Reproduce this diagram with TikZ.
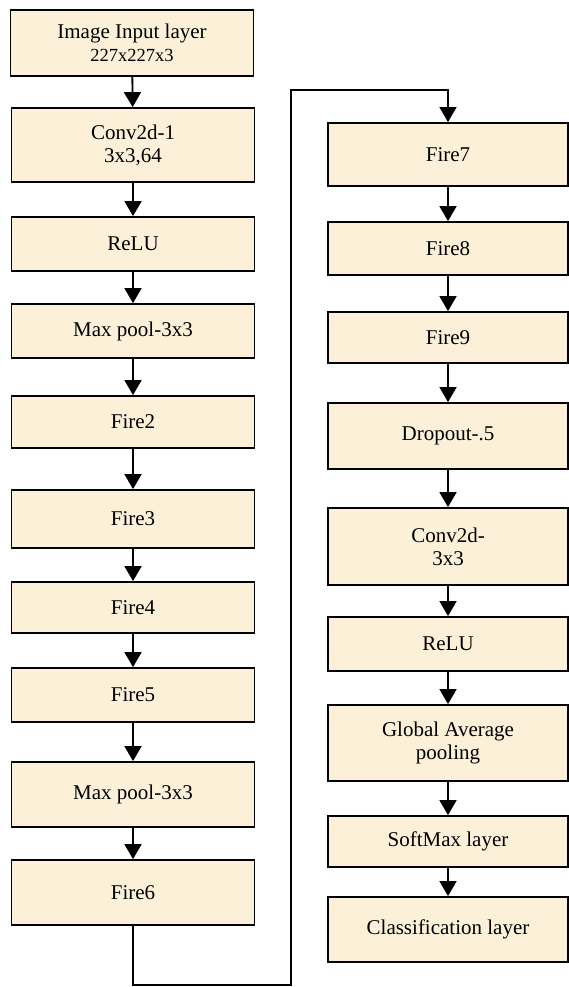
\documentclass[tikz,border=0pt]{standalone}
\usepackage{fontspec}
\setmainfont{Liberation Serif}
\newfontfamily\layerfont{Liberation Serif}
\usepackage{tikz}
\usetikzlibrary{shapes, arrows.meta}
\definecolor{layerfill}{RGB}{252,240,217}
\tikzstyle{layer} = [rectangle, draw, fill=layerfill, line width=1.8pt, text centered, align=center, inner sep=0pt, font=\layerfont\fontsize{21}{23}\selectfont]
\tikzstyle{leftlayer} = [layer, minimum width=243pt]
\tikzstyle{rightlayer} = [layer, minimum width=240pt]
\tikzstyle{connector} = [draw, line width=1.8pt, -{Triangle[length=15pt, width=17pt]}]
\tikzstyle{skip} = [draw, line width=1.2pt, -{Triangle[length=15pt, width=17pt]}]

\begin{document}
\begin{tikzpicture}[x=1pt, y=-1pt]
        \useasboundingbox (0,0) rectangle (569,987);

        % left column
        \node [leftlayer, minimum height=66pt] at (132,43) (input)
        {Image Input layer\\{\fontsize{18.5}{20}\selectfont 227x227x3}};
        \node [leftlayer, minimum height=74pt] at (133,145) (conv1) {Conv2d-1\\3x3,64};
        \node [leftlayer, minimum height=54pt] at (133,244) (relu1) {ReLU};
        \node [leftlayer, minimum height=54pt] at (133,331) (pool1) {Max pool-3x3};
        \node [leftlayer, minimum height=52pt] at (133,422) (fire2) {Fire2};
        \node [leftlayer, minimum height=58pt] at (133,519) (fire3) {Fire3};
        \node [leftlayer, minimum height=51pt] at (133,607.5) (fire4) {Fire4};
        \node [leftlayer, minimum height=54pt] at (133,695) (fire5) {Fire5};
        \node [leftlayer, minimum height=65pt] at (133,794.5) (pool2) {Max pool-3x3};
        \node [leftlayer, minimum height=65pt] at (133,892.5) (fire6) {Fire6};

        % right column
        \node [rightlayer, minimum height=63pt] at (448,154.5) (fire7) {Fire7};
        \node [rightlayer, minimum height=53pt] at (448,248.5) (fire8) {Fire8};
        \node [rightlayer, minimum height=51pt] at (448,337.5) (fire9) {Fire9};
        \node [rightlayer, minimum height=66pt] at (448,436) (drop) {Dropout-.5};
        \node [rightlayer, minimum height=77pt] at (448,546.5) (conv10) {Conv2d-\\3x3};
        \node [rightlayer, minimum height=54pt] at (448,644) (relu2) {ReLU};
        \node [rightlayer, minimum height=76pt] at (448,743) (gap) {Global Average\\pooling};
        \node [rightlayer, minimum height=51pt] at (448,841.5) (softmax) {SoftMax layer};
        \node [rightlayer, minimum height=65pt] at (448,929.5) (classif) {Classification layer};

        \coordinate (lowturn) at (291,985);
        \coordinate (highturn) at (291,90);

        \path [connector] (input) -- (conv1);
        \path [connector] (conv1) -- (relu1);
        \path [connector] (relu1) -- (pool1);
        \path [connector] (pool1) -- (fire2);
        \path [connector] (fire2) -- (fire3);
        \path [connector] (fire3) -- (fire4);
        \path [connector] (fire4) -- (fire5);
        \path [connector] (fire5) -- (pool2);
        \path [connector] (pool2) -- (fire6);
        \path [skip] (fire6.south) |- (lowturn) -- (highturn) -| (fire7.north);
        \path [connector] (fire7) -- (fire8);
        \path [connector] (fire8) -- (fire9);
        \path [connector] (fire9) -- (drop);
        \path [connector] (drop) -- (conv10);
        \path [connector] (conv10) -- (relu2);
        \path [connector] (relu2) -- (gap);
        \path [connector] (gap) -- (softmax);
        \path [connector] (softmax) -- (classif);
    \end{tikzpicture}
\end{document}
